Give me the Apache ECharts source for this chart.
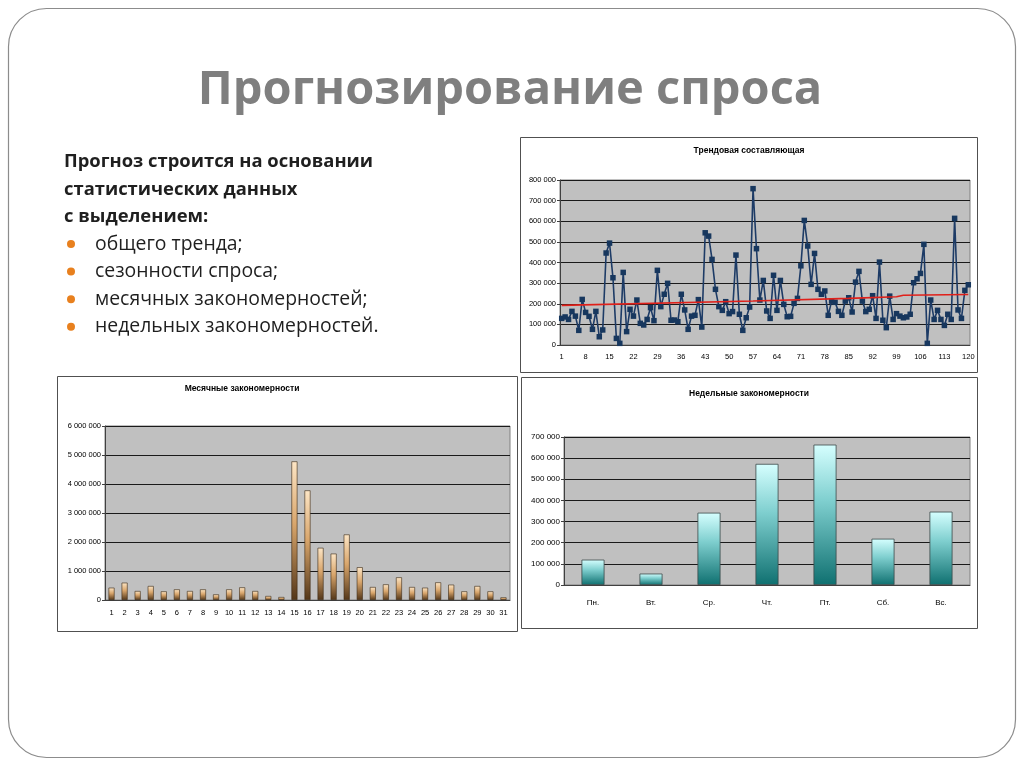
<!DOCTYPE html>
<html><head><meta charset="utf-8">
<script src="https://cdn.jsdelivr.net/npm/echarts@6/dist/echarts.min.js"></script>
<style>html,body{margin:0;padding:0;background:#fff}#c{width:1024px;height:768px}</style>
</head><body><div id="c"></div><script>
// ---------- DATA ----------
const trendValues = [129000,136000,124000,163000,140000,71000,221000,158000,139000,76000,
163000,40000,73000,446000,494000,326000,32000,8000,352000,65000,
173000,140000,218000,105000,97000,124000,181000,118000,362000,186000,
246000,299000,120000,121000,113000,246000,170000,76000,140000,144000,
220000,87000,544000,528000,415000,270000,186000,168000,210000,152000,
162000,436000,149000,71000,132000,184000,758000,467000,218000,313000,
165000,129000,338000,168000,313000,197000,137000,139000,202000,226000,
384000,604000,480000,294000,444000,270000,246000,262000,144000,213000,
207000,163000,144000,213000,229000,160000,305000,357000,213000,162000,
173000,239000,129000,402000,120000,84000,237000,124000,152000,140000,
132000,136000,149000,302000,321000,347000,488000,8000,218000,124000,
168000,124000,95000,149000,124000,614000,170000,129000,265000,292000];
const trendCategories = trendValues.map((v, i) => String(i + 1));
// trend component read at a few points: [period index (0-based), value]
const trendLinePoints = [[0,192000],[56,213000],[84,226000],[98,234000],[100,241000],[119,245000]];

const monthDays = ['1','2','3','4','5','6','7','8','9','10','11','12','13','14','15','16','17','18','19','20','21','22','23','24','25','26','27','28','29','30','31'];
const monthValues = [425000,598000,310000,483000,299000,368000,310000,368000,195000,368000,
437000,310000,138000,103000,4780000,3780000,1800000,1600000,2260000,1130000,
448000,540000,782000,448000,425000,609000,529000,299000,483000,299000,92000];

const weekDays = ['Пн.','Вт.','Ср.','Чт.','Пт.','Сб.','Вс.'];
const weekValues = [120000,54000,342000,573000,664000,219000,347000];

const slideTitle = 'Прогнозирование спроса';
const introLines = ['Прогноз строится на основании','статистических данных','с выделением:'];
const bulletLines = ['общего тренда;','сезонности спроса;','месячных закономерностей;','недельных закономерностей.'];

// ---------- HELPERS ----------
const fmt = v => String(Math.round(v)).replace(/\B(?=(\d{3})+(?!\d))/g, ' ');
const AF = 'Liberation Sans, Arial, sans-serif';
const TF = 'Open Sans, Noto Sans, sans-serif';

const chart = echarts.init(document.getElementById('c'), null, {renderer: 'canvas'});

const graphics = [];
// slide border
graphics.push({type:'rect', shape:{x:8.5,y:8.5,width:1007,height:749,r:38}, style:{fill:'none', stroke:'#8c8c8c', lineWidth:1.2}, silent:true});
// slide title
graphics.push({type:'text', x:510, y:91, style:{text:slideTitle, font:'bold 47px '+TF, fill:'#7f7f7f', align:'center', verticalAlign:'middle'}});
// intro text
introLines.forEach((t, i) => graphics.push({type:'text', x:64, y:162 + i*27.5,
  style:{text:t, font:'bold 18.4px '+TF, fill:'#1f1f1f', align:'left', verticalAlign:'middle'}}));
bulletLines.forEach((t, i) => {
  const y = 244 + i*27.6;
  graphics.push({type:'circle', shape:{cx:71, cy:y, r:4}, style:{fill:'#e8801e'}});
  graphics.push({type:'text', x:95, y:y, style:{text:t, font:'19.4px '+TF, fill:'#1f1f1f', align:'left', verticalAlign:'middle'}});
});
// chart panels
graphics.push({type:'rect', shape:{x:520.5,y:137.5,width:457,height:235}, style:{fill:'none', stroke:'#505050', lineWidth:1}});
graphics.push({type:'rect', shape:{x:57.5,y:376.5,width:460,height:255}, style:{fill:'none', stroke:'#505050', lineWidth:1}});
graphics.push({type:'rect', shape:{x:521.5,y:377.5,width:456,height:251}, style:{fill:'none', stroke:'#505050', lineWidth:1}});
// panel titles
graphics.push({type:'text', x:749, y:151, style:{text:'Трендовая составляющая', font:'bold 8.5px '+AF, fill:'#000', align:'center', verticalAlign:'middle'}});
graphics.push({type:'text', x:242, y:389, style:{text:'Месячные закономерности', font:'bold 8.5px '+AF, fill:'#000', align:'center', verticalAlign:'middle'}});
graphics.push({type:'text', x:749, y:394, style:{text:'Недельные закономерности', font:'bold 8.5px '+AF, fill:'#000', align:'center', verticalAlign:'middle'}});

const gridCommon = {show:true, backgroundColor:'#c0c0c0', borderColor:'#808080', borderWidth:1, containLabel:false};
const yCommon = {
  type:'value',
  axisLine:{show:true, lineStyle:{color:'#404040', width:1}},
  axisTick:{show:true, length:3, lineStyle:{color:'#404040'}},
  splitLine:{show:true, lineStyle:{color:'#1a1a1a', width:1}},
  axisLabel:{fontFamily:AF, fontSize:7.5, color:'#000', margin:4, formatter:fmt}
};

const option = {
  animation:false,
  backgroundColor:'#ffffff',
  graphic:{elements:graphics},
  grid:[
    Object.assign({left:560, top:180, width:410, height:165}, gridCommon),
    Object.assign({left:105, top:426, width:405, height:174}, gridCommon),
    Object.assign({left:564, top:437, width:406, height:148}, gridCommon)
  ],
  xAxis:[
    {type:'category', gridIndex:0, data:trendCategories, boundaryGap:true,
     axisLine:{lineStyle:{color:'#404040'}},
     axisTick:{alignWithLabel:true, interval:6, length:3, lineStyle:{color:'#404040'}},
     axisLabel:{interval:6, fontFamily:AF, fontSize:7.5, color:'#000', margin:8}},
    {type:'category', gridIndex:1, data:monthDays,
     axisLine:{lineStyle:{color:'#404040'}},
     axisTick:{length:3, lineStyle:{color:'#404040'}},
     axisLabel:{interval:0, fontFamily:AF, fontSize:7.5, color:'#000', margin:9}},
    {type:'category', gridIndex:2, data:weekDays,
     axisLine:{lineStyle:{color:'#404040'}},
     axisTick:{length:3, lineStyle:{color:'#404040'}},
     axisLabel:{interval:0, fontFamily:AF, fontSize:8, color:'#000', margin:14}}
  ],
  yAxis:[
    Object.assign({}, yCommon, {gridIndex:0, min:0, max:800000, interval:100000}),
    Object.assign({}, yCommon, {gridIndex:1, min:0, max:6000000, interval:1000000}),
    Object.assign({}, yCommon, {gridIndex:2, min:0, max:700000, interval:100000, axisLabel:Object.assign({}, yCommon.axisLabel, {fontSize:8})})
  ],
  series:[
    {type:'line', xAxisIndex:0, yAxisIndex:0, data:trendValues, symbol:'rect', symbolSize:5.5, showAllSymbol:true,
     lineStyle:{color:'#1d3b66', width:1.6}, itemStyle:{color:'#17375e'}, z:3},
    {type:'line', xAxisIndex:0, yAxisIndex:0, data:trendLinePoints, symbol:'none',
     lineStyle:{color:'#e0201a', width:1.6}, z:4},
    {type:'bar', xAxisIndex:1, yAxisIndex:1, data:monthValues, barWidth:6,
     itemStyle:{borderColor:'#3b2814', borderWidth:0.6,
       color:new echarts.graphic.LinearGradient(0,0,0,1,[
         {offset:0,color:'#fde6c6'},{offset:0.45,color:'#d9a66c'},{offset:1,color:'#533618'}])}},
    {type:'bar', xAxisIndex:2, yAxisIndex:2, data:weekValues, barWidth:23,
     itemStyle:{borderColor:'#3c4a4a', borderWidth:0.8,
       color:new echarts.graphic.LinearGradient(0,0,0,1,[
         {offset:0,color:'#d6ffff'},{offset:0.4,color:'#7fcfcf'},{offset:1,color:'#0f7070'}])}}
  ]
};
chart.setOption(option);
</script></body></html>
